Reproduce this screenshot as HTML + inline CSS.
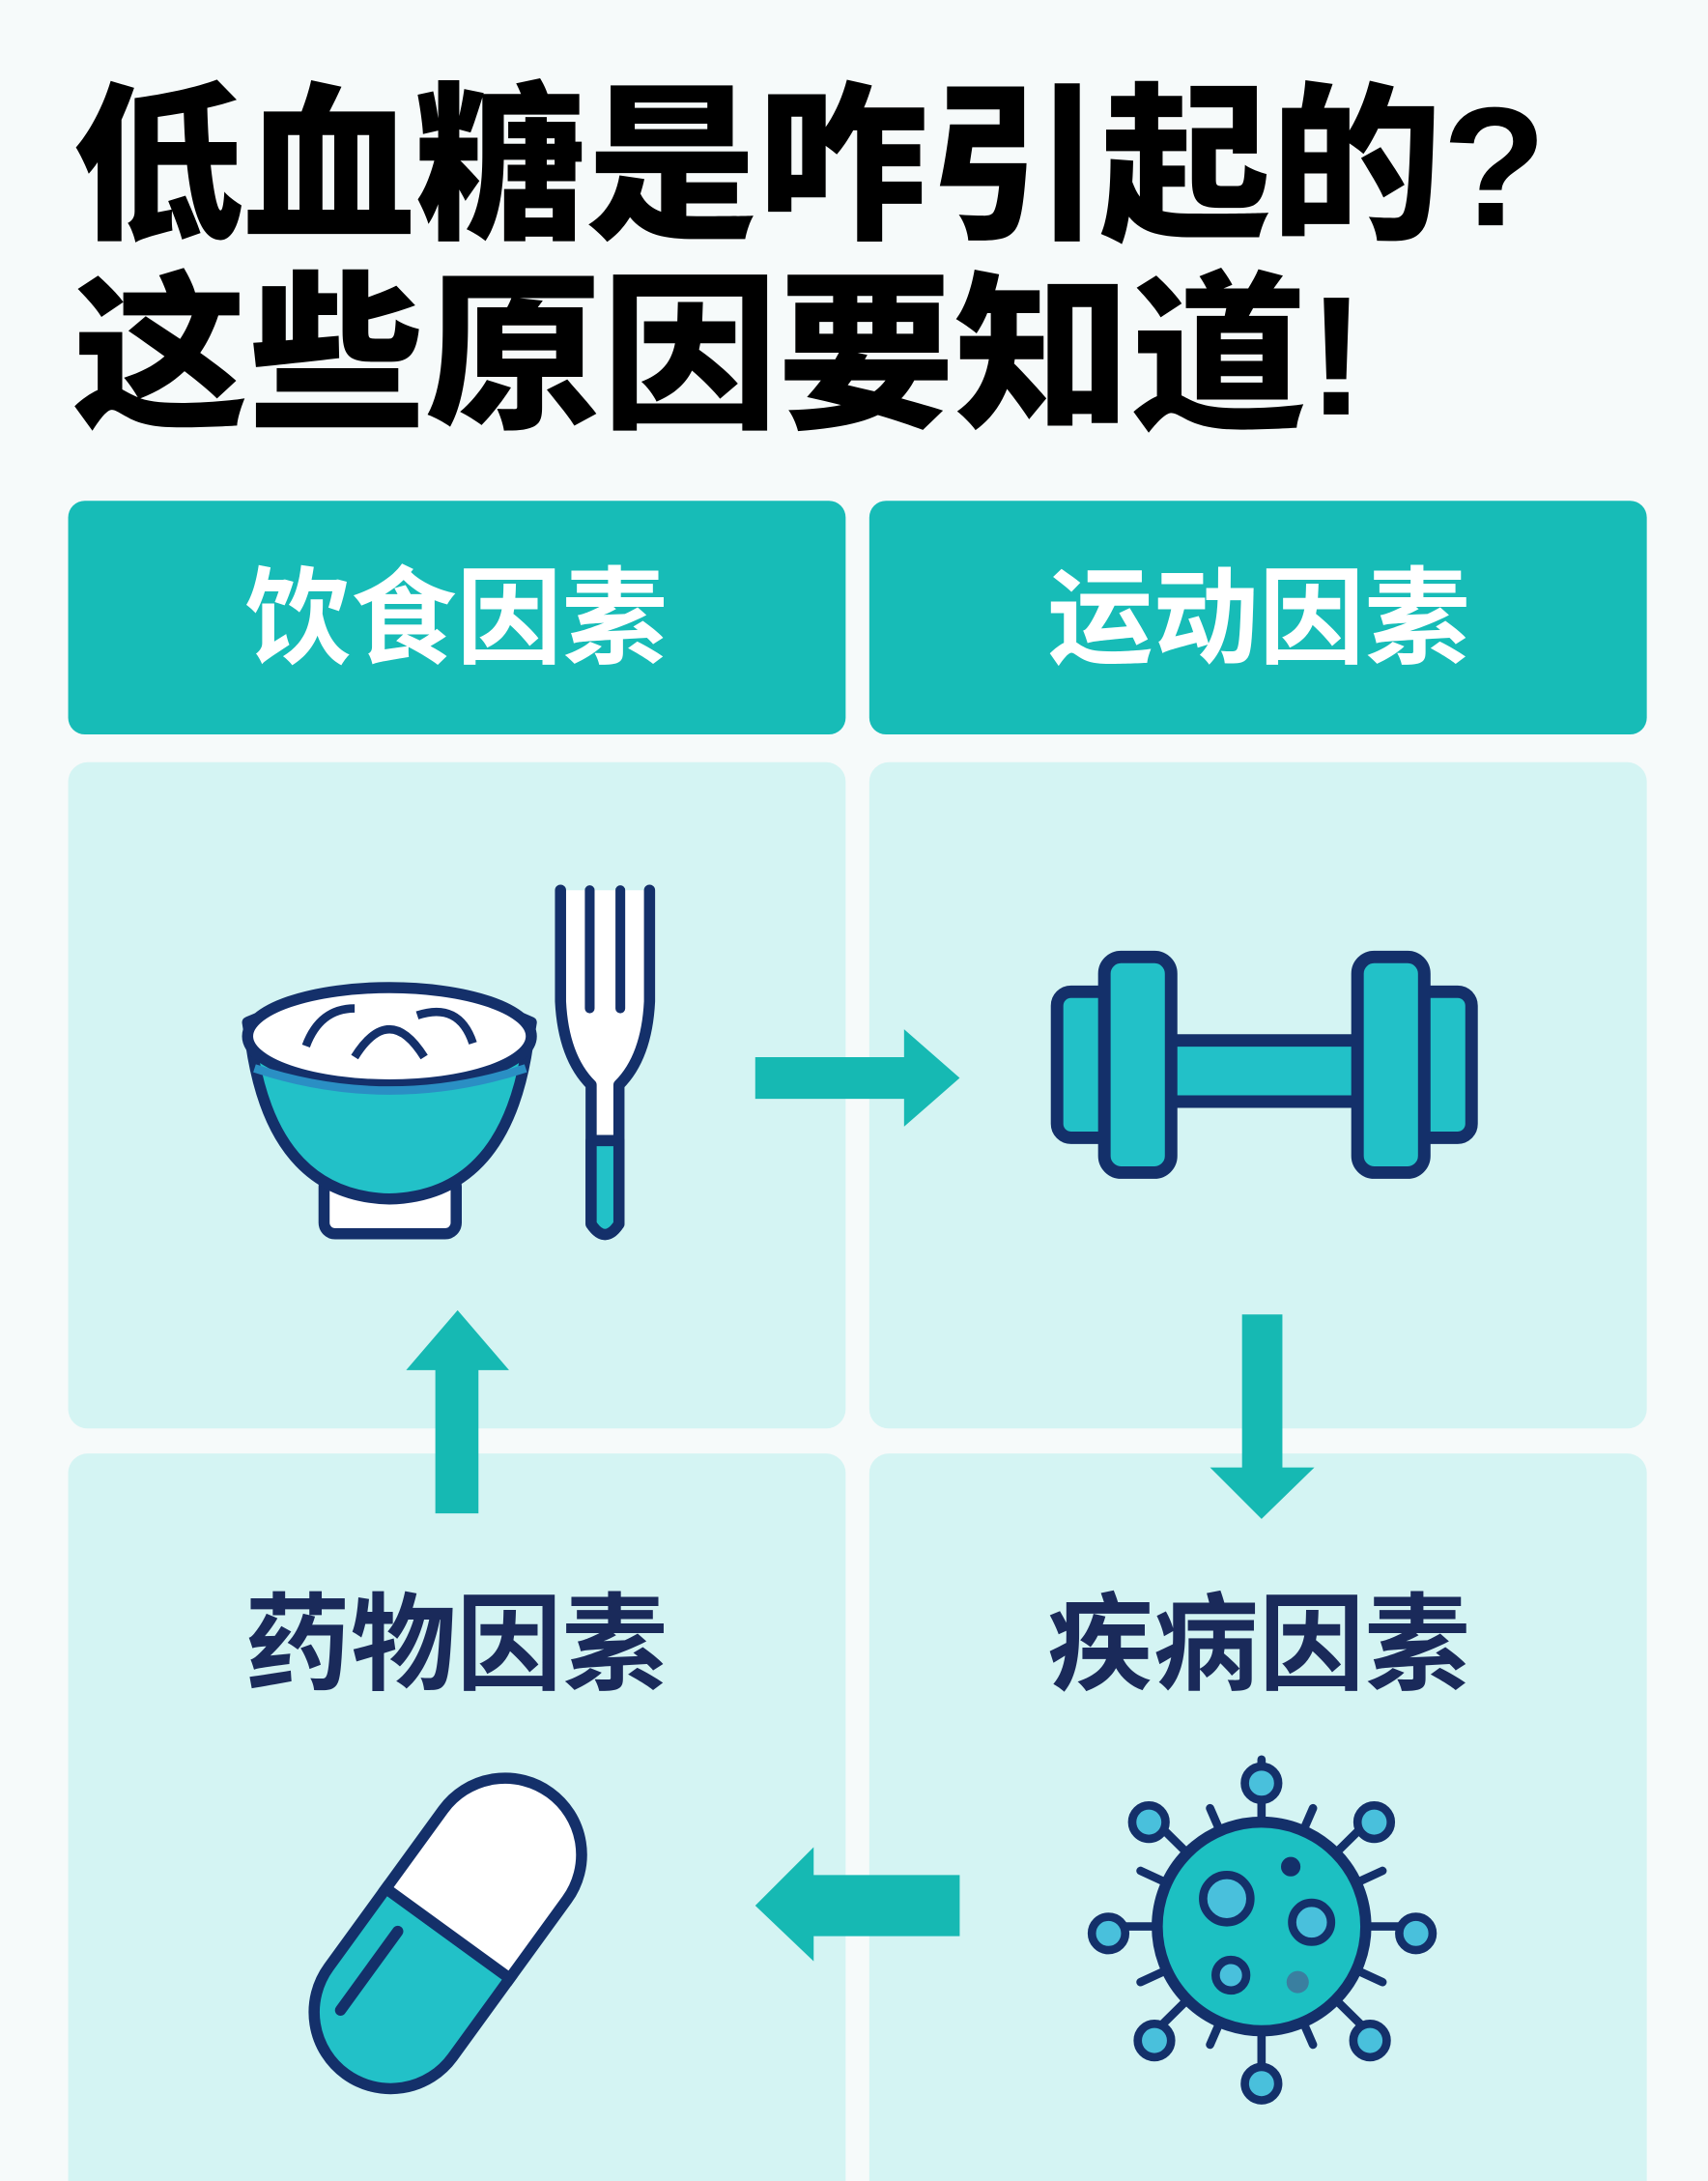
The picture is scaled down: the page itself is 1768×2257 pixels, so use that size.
<!DOCTYPE html>
<html><head><meta charset="utf-8"><style>
html,body{margin:0;padding:0;background:#f5f9f9;}
svg{display:block}
</style></head><body>
<svg width="1768" height="2257" viewBox="0 0 1228 1568" preserveAspectRatio="none" xmlns="http://www.w3.org/2000/svg">
<rect width="1228" height="1568" fill="#f6fafa"/>
<g font-family="'Liberation Sans','Noto Sans CJK SC',sans-serif" font-weight="900">
<text x="52" y="162" font-size="122" fill="#000" textLength="1060" lengthAdjust="spacingAndGlyphs">低血糖是咋引起的?</text>
<text x="52" y="298" font-size="122" fill="#000" textLength="930" lengthAdjust="spacingAndGlyphs">这些原因要知道!</text>
</g>
<rect x="49" y="360" width="559" height="168" rx="12" fill="#17bcb7"/>
<rect x="625" y="360" width="559" height="168" rx="12" fill="#17bcb7"/>
<rect x="49" y="548" width="559" height="479" rx="14" fill="#d4f4f3"/>
<rect x="625" y="548" width="559" height="479" rx="14" fill="#d4f4f3"/>
<rect x="49" y="1045" width="559" height="560" rx="14" fill="#d4f4f3"/>
<rect x="625" y="1045" width="559" height="560" rx="14" fill="#d4f4f3"/>
<g font-family="'Liberation Sans','Noto Sans CJK SC',sans-serif" font-weight="700" font-size="76" text-anchor="middle">
<text x="328" y="471" fill="#fff">饮食因素</text>
<text x="905" y="471" fill="#fff">运动因素</text>
<text x="328" y="1209" fill="#1a2a5a">药物因素</text>
<text x="905" y="1209" fill="#1a2a5a">疾病因素</text>
</g>
<!-- bowl -->
<g stroke="#14306a" stroke-width="8" stroke-linejoin="round">
<rect x="233" y="845" width="95" height="42" rx="8" fill="#fff"/>
<path d="M178 735 Q280 690 382 735 L378 760 Q360 860 280 862 Q200 860 182 760 Z" fill="#22c1c8"/>
<ellipse cx="280" cy="745" rx="102" ry="35" fill="#fff"/>
<path d="M183 768 Q280 800 378 768" fill="none" stroke="#2a8fc4" stroke-width="6"/>
<path d="M220 752 Q230 725 255 725 M255 760 Q280 720 305 760 M300 730 Q330 720 340 750" fill="none" stroke-width="6"/>
</g>
<!-- fork -->
<g stroke="#14306a" stroke-width="8" stroke-linecap="round" stroke-linejoin="round">
<path d="M403 640 L403 720 Q405 760 425 780 L425 880 Q435 895 445 880 L445 780 Q465 760 467 720 L467 640" fill="#fff"/>
<path d="M425 820 L425 880 Q435 895 445 880 L445 820 Z" fill="#22c1c8"/>
<path d="M424 640 L424 725 M446 640 L446 725" fill="none" stroke-width="7"/>
</g>
<path d="M543 760 L650 760 L650 740 L690 775 L650 810 L650 790 L543 790 Z" fill="#16b9b3"/>
<g stroke="#14306a" stroke-width="9" stroke-linejoin="round" fill="#22c1c8">
<rect x="838" y="748" width="142" height="44"/>
<rect x="760" y="713" width="40" height="105" rx="10"/>
<rect x="1018" y="713" width="40" height="105" rx="10"/>
<rect x="794" y="688" width="48" height="155" rx="12"/>
<rect x="976" y="688" width="48" height="155" rx="12"/>
</g>
<path d="M893 945 L922 945 L922 1055 L945 1055 L907 1092 L870 1055 L893 1055 Z" fill="#16b9b3"/>
<path d="M313 1088 L344 1088 L344 985 L366 985 L329 942 L292 985 L313 985 Z" fill="#16b9b3"/>
<path d="M690 1348 L585 1348 L585 1328 L543 1370 L585 1410 L585 1392 L690 1392 Z" fill="#16b9b3"/>
<!-- pill -->
<g transform="translate(322 1390) rotate(36)" stroke="#14306a" stroke-width="8">
<path d="M-55 0 L-55 70 A55 55 0 0 0 55 70 L55 0 Z" fill="#22c1c8"/>
<path d="M-55 0 L-55 -70 A55 55 0 0 1 55 -70 L55 0 Z" fill="#fff"/>
<path d="M-30 20 L-30 90" stroke-linecap="round" fill="none"/>
</g>
<!-- virus -->
<g stroke="#14306a" stroke-width="6" stroke-linecap="round">
<g fill="#49c0dc">
<line x1="907" y1="1385" x2="907" y2="1265"/><circle cx="907" cy="1282" r="12"/>
<line x1="907" y1="1385" x2="907" y2="1505"/><circle cx="907" cy="1498" r="12"/>
<line x1="907" y1="1385" x2="797" y2="1385"/><circle cx="797" cy="1390" r="12"/>
<line x1="907" y1="1385" x2="1020" y2="1385"/><circle cx="1018" cy="1390" r="12"/>
<line x1="907" y1="1385" x2="826" y2="1305"/><circle cx="826" cy="1310" r="12"/>
<line x1="907" y1="1385" x2="988" y2="1305"/><circle cx="988" cy="1310" r="12"/>
<line x1="907" y1="1385" x2="826" y2="1465"/><circle cx="830" cy="1467" r="12"/>
<line x1="907" y1="1385" x2="988" y2="1465"/><circle cx="985" cy="1467" r="12"/>
<line x1="907" y1="1385" x2="870" y2="1300"/><line x1="907" y1="1385" x2="944" y2="1300"/>
<line x1="907" y1="1385" x2="870" y2="1470"/><line x1="907" y1="1385" x2="944" y2="1470"/>
<line x1="907" y1="1385" x2="820" y2="1345"/><line x1="907" y1="1385" x2="994" y2="1345"/>
<line x1="907" y1="1385" x2="820" y2="1425"/><line x1="907" y1="1385" x2="994" y2="1425"/>
</g>
<circle cx="907" cy="1385" r="75" fill="#1cc0c2" stroke-width="8"/>
<g fill="#49c0dc">
<circle cx="882" cy="1365" r="17"/>
<circle cx="943" cy="1382" r="14"/>
<circle cx="885" cy="1420" r="11"/>
</g>
<circle cx="928" cy="1342" r="4" fill="#14306a"/>
<circle cx="933" cy="1425" r="8" fill="#3a7fa0" stroke="none"/>
</g>
</svg>
</body></html>
